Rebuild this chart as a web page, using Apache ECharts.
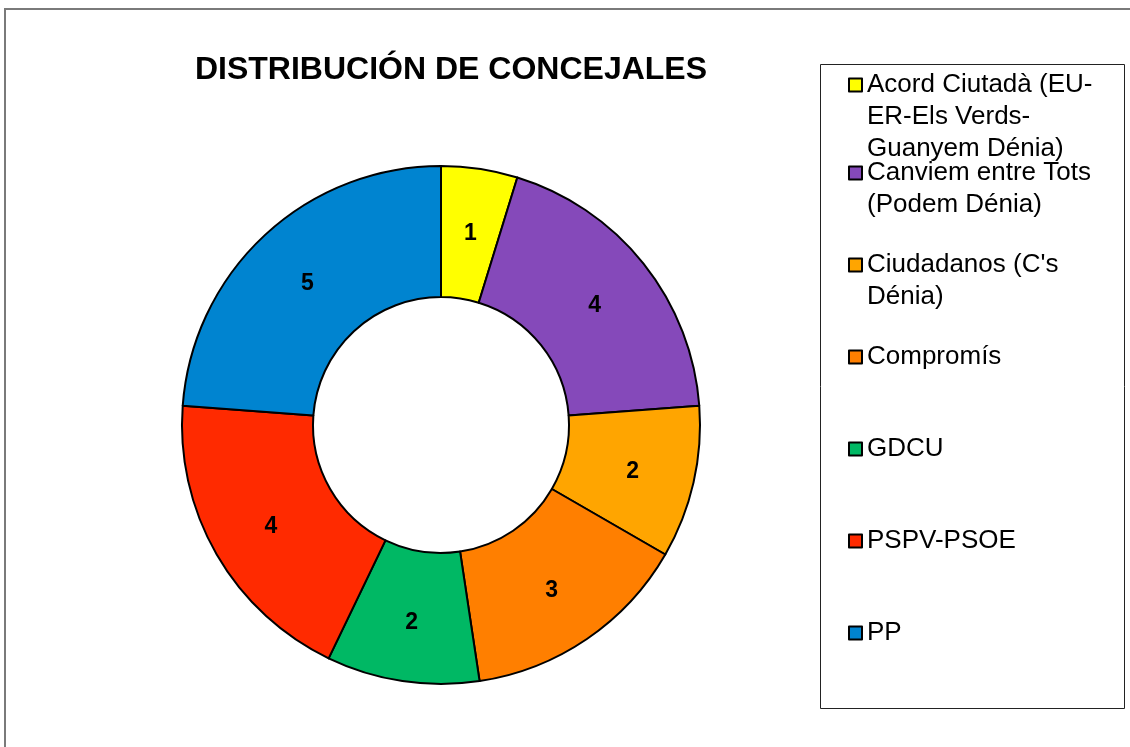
<!DOCTYPE html>
<html>
<head>
<meta charset="utf-8">
<script src="https://cdn.jsdelivr.net/npm/echarts@6/dist/echarts.min.js"></script>
<style>
  html, body { margin: 0; padding: 0; background: #fff; }
  #chart { width: 1130px; height: 747px; }
</style>
</head>
<body>
<div id="chart"></div>
<script>
// datos del gráfico
var partidos = [
  'Acord Ciutadà (EU-ER-Els Verds-Guanyem Dénia)',
  'Canviem entre Tots (Podem Dénia)',
  "Ciudadanos (C's Dénia)",
  'Compromís',
  'GDCU',
  'PSPV-PSOE',
  'PP'
];
// texto de la leyenda tal como aparece partido en líneas
var textoLeyenda = [
  'Acord Ciutadà (EU-\nER-Els Verds-\nGuanyem Dénia)',
  'Canviem entre Tots\n(Podem Dénia)',
  "Ciudadanos (C's\nDénia)",
  'Compromís',
  'GDCU',
  'PSPV-PSOE',
  'PP'
];
var concejales = [1, 4, 2, 3, 2, 4, 5];
var colores = ['#FFFF00', '#8549BA', '#FFA500', '#FF7F00', '#00B864', '#FF2A00', '#0084D0'];

var FONT = '"Liberation Sans", Arial, sans-serif';
// posición vertical (centro) de cada fila de la leyenda
var filaY = [83, 171, 263, 355, 447, 539, 631];
var altoLinea = 32;

var myChart = echarts.init(document.getElementById('chart'));

// una leyenda por partido, para que el cuadrado quede en la primera línea
var leyendas = partidos.map(function (nombre, i) {
  var lineas = textoLeyenda[i].split('\n');
  var relleno = [];
  for (var k = 0; k < lineas.length - 1; k++) relleno.push(' ');
  var total = relleno.length + lineas.length;
  var texto = relleno.concat(lineas).join('\n');
  return {
    data: [nombre],
    orient: 'vertical',
    left: 848,
    top: filaY[i] - total * altoLinea / 2,
    padding: 0,
    icon: 'rect',
    itemWidth: 13,
    itemHeight: 13,
    itemGap: 0,
    selectedMode: false,
    formatter: function () { return texto; },
    textStyle: {
      fontFamily: FONT,
      fontSize: 26,
      lineHeight: altoLinea,
      padding: [4, 0, 0, 0],
      color: '#000'
    }
  };
});

var option = {
  backgroundColor: '#fff',
  color: colores,
  animation: false,
  title: {
    text: 'DISTRIBUCIÓN DE CONCEJALES',
    left: 451,
    top: 54,
    padding: 0,
    textAlign: 'center',
    textStyle: {
      fontFamily: FONT,
      fontSize: 32,
      fontWeight: 'bold',
      color: '#000'
    }
  },
  legend: leyendas,
  graphic: [
    {
      // marco exterior
      type: 'rect',
      z: -1,
      shape: { x: 5, y: 9, width: 1200, height: 800 },
      style: { fill: 'none', stroke: '#7a7a7a', lineWidth: 2 }
    },
    {
      // caja de la leyenda
      type: 'rect',
      z: -1,
      shape: { x: 820.5, y: 64.5, width: 304, height: 644 },
      style: { fill: 'none', stroke: '#222', lineWidth: 1 }
    }
  ],
  series: [{
    name: 'Concejales',
    type: 'pie',
    center: [441, 425],
    radius: [128, 259],
    startAngle: 90,
    clockwise: true,
    avoidLabelOverlap: false,
    itemStyle: {
      borderColor: '#000',
      borderWidth: 2
    },
    label: {
      show: true,
      position: 'inside',
      formatter: '{c}',
      offset: [0, 3],
      fontFamily: FONT,
      fontSize: 23,
      fontWeight: 'bold',
      color: '#000'
    },
    labelLine: { show: false },
    emphasis: { scale: false },
    data: partidos.map(function (p, i) {
      return { name: p, value: concejales[i] };
    })
  }]
};

myChart.setOption(option);
window.addEventListener('resize', function () {
  myChart.resize();
});
</script>
</body>
</html>
